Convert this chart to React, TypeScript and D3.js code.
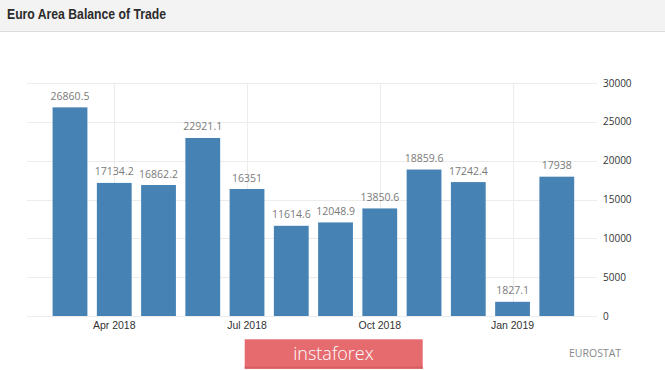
import React from "react";
import * as d3 from "d3";

const months = [
  "Mar 2018", "Apr 2018", "May 2018", "Jun 2018", "Jul 2018", "Aug 2018",
  "Sep 2018", "Oct 2018", "Nov 2018", "Dec 2018", "Jan 2019", "Feb 2019",
];
const values = [
  26860.5, 17134.2, 16862.2, 22921.1, 16351, 11614.6,
  12048.9, 13850.6, 18859.6, 17242.4, 1827.1, 17938,
];
const valueLabels = [
  "26860.5", "17134.2", "16862.2", "22921.1", "16351", "11614.6",
  "12048.9", "13850.6", "18859.6", "17242.4", "1827.1", "17938",
];
const xTicks = ["Apr 2018", "Jul 2018", "Oct 2018", "Jan 2019"];
const yTicks = [0, 5000, 10000, 15000, 20000, 25000, 30000];
const title = "Euro Area Balance of Trade";
const source = "EUROSTAT";
const brand = "instaforex";

const W = 665;
const H = 370;

export default function App() {
  const x = d3
    .scaleBand<string>()
    .domain(months)
    .range([52.6, 574.2])
    .paddingInner(0.2136)
    .paddingOuter(0);
  const y = d3.scaleLinear().domain([0, 30000]).range([316, 83]);
  const gridLeft = 27;
  const gridRight = 597;
  const cx = (m: string) => (x(m) as number) + x.bandwidth() / 2;

  return (
    <svg
      width={W}
      height={H}
      style={{ position: "absolute", left: 0, top: 0, background: "#fff" }}
    >
      <rect x={0} y={0} width={W} height={31} fill="#f3f3f3" />
      <line x1={0} x2={W} y1={31.5} y2={31.5} stroke="#dcdcdc" />
      <text
        x={7}
        y={18.5}
        fontFamily="Liberation Sans, Arial, sans-serif"
        fontWeight="bold"
        fontSize={14}
        fill="#2b2b2b"
        textLength={159}
        lengthAdjust="spacingAndGlyphs"
      >
        {title}
      </text>

      {yTicks.map((t) => (
        <line
          key={"h" + t}
          x1={gridLeft}
          x2={gridRight}
          y1={Math.round(y(t)) + 0.5}
          y2={Math.round(y(t)) + 0.5}
          stroke="#ececec"
        />
      ))}
      {xTicks.map((t) => (
        <line
          key={"v" + t}
          x1={Math.round(cx(t)) + 0.5}
          x2={Math.round(cx(t)) + 0.5}
          y1={y(30000)}
          y2={y(0)}
          stroke="#ececec"
        />
      ))}

      {months.map((m, i) => (
        <rect
          key={m}
          x={x(m)}
          y={y(values[i])}
          width={x.bandwidth()}
          height={y(0) - y(values[i])}
          fill="#4682b4"
        />
      ))}
      {months.map((m, i) => (
        <text
          key={"l" + m}
          x={cx(m)}
          y={y(values[i]) - 7.5}
          textAnchor="middle"
          fontFamily="Open Sans, sans-serif"
          fontSize={10.5}
          fill="#7a7a7a"
        >
          {valueLabels[i]}
        </text>
      ))}

      {yTicks.map((t) => (
        <text
          key={"yt" + t}
          x={603}
          y={y(t) + 3.5}
          fontFamily="Open Sans, sans-serif"
          fontSize={10}
          fill="#333"
        >
          {t}
        </text>
      ))}
      {xTicks.map((t) => (
        <text
          key={"xt" + t}
          x={cx(t)}
          y={328.7}
          textAnchor="middle"
          fontFamily="Liberation Sans, Arial, sans-serif"
          fontSize={10.5}
          fill="#333"
        >
          {t}
        </text>
      ))}

      <rect x={244.7} y={339.3} width={178} height={29.4} fill="#e56b6f" />
      <rect x={244.7} y={366.7} width={178} height={2} fill="#d65c60" />
      <text
        x={333.5}
        y={360}
        textAnchor="middle"
        fontFamily="Open Sans, sans-serif"
        fontWeight={300}
        fontSize={18}
        fill="#fff"
      >
        {brand}
      </text>
      <text
        x={569}
        y={357}
        fontFamily="Open Sans, sans-serif"
        fontSize={10.5}
        fill="#888"
      >
        {source}
      </text>
    </svg>
  );
}
